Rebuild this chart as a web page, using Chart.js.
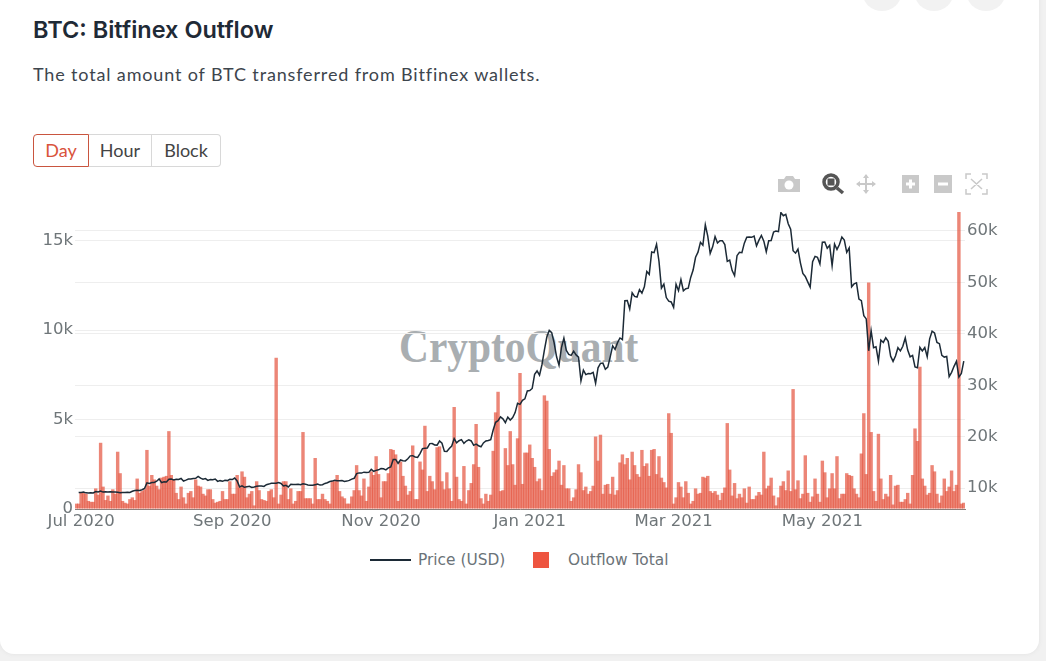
<!DOCTYPE html>
<html lang="en">

<head>
    <meta charset="UTF-8">
    <title>BTC: Bitfinex Outflow</title>
    <script src="https://cdn.jsdelivr.net/npm/chart.js"></script>
    <style>
        html, body { margin: 0; padding: 0; width: 1046px; height: 661px; overflow: hidden; background: #f1f1f1; }
        .card { position: absolute; left: 0; top: -20px; width: 1039px; height: 674px; background: #fff; border-radius: 14px; box-shadow: 0 0 4px #e2e2e2; }
        .dot { position: absolute; top: -29px; width: 40px; height: 40px; border-radius: 50%; background: #f2f2f2; }
        h1 { position: absolute; left: 33px; top: 15px; margin: 0; font: 600 23.5px Inter; color: #1f2a36; }
        .sub { position: absolute; left: 33px; top: 63px; font: 400 18px Lato; color: #3d454d; letter-spacing: 0.85px; }
        .btns { position: absolute; left: 33px; top: 134px; height: 33px; display: flex; font: 400 18px Lato; color: #444; }
        .btns div { box-sizing: border-box; height: 33px; line-height: 31px; text-align: center; border: 1px solid #d8d8d8; border-left: 0; }
        .btns .on { width: 56px; border: 1px solid #c9553f; border-radius: 4px 0 0 4px; color: #d9533c; }
        .btns .last { border-radius: 0 4px 4px 0; }
        .mark { position: absolute; left: 399px; top: 320px; font: bold 46px "Liberation Serif"; color: #a9aeb1; transform: scaleX(0.9); transform-origin: left top; }
        .wrap { position: absolute; left: 0; top: 200px; width: 1046px; height: 340px; }
        .tools { position: absolute; left: 0; top: 0; }
        .legend { position: absolute; top: 551px; font: 15.4px "DejaVu Sans"; color: #6b7378; }
        .lineKey { position: absolute; left: 370px; top: 559px; width: 41px; height: 2px; background: #1c2a36; }
        .boxKey { position: absolute; left: 533px; top: 552px; width: 16px; height: 16px; background: #ee5540; }
    </style>
</head>

<body>

    <div class="card"></div>
    <div class="dot" style="left:862px"></div>
    <div class="dot" style="left:914px"></div>
    <div class="dot" style="left:966px"></div>

    <h1>BTC: Bitfinex Outflow</h1>
    <div class="sub">The total amount of BTC transferred from Bitfinex wallets.</div>

    <div class="btns">
        <div class="on">Day</div>
        <div style="width:63px">Hour</div>
        <div class="last" style="width:69px">Block</div>
    </div>

    <!-- barra de ferramentas -->
    <svg class="tools" width="1046" height="200">
        <g fill="#c9c9c9">
            <path d="M778 179h6l2-3h7l2 3h5v13h-22z" />
            <circle cx="789" cy="185" r="4.5" fill="#fff" />
            <rect x="902" y="175" width="17" height="18" />
            <rect x="934" y="175" width="18" height="18" />
        </g>
        <path d="M906 184h9M910.500 179.500v9M938 184h10" stroke="#fff" stroke-width="3" />
        <circle cx="831" cy="182" r="7" fill="none" stroke="#555" stroke-width="3.500" />
        <rect x="827.500" y="178.500" width="7" height="7" fill="#555" />
        <path d="M837 188l6 5" stroke="#555" stroke-width="3.500" />
        <path d="M866 175v18M857 184h18" stroke="#c9c9c9" stroke-width="2" />
        <path d="M866 174l-3 4h6zM866 194l-3-4h6zM856 184l4-3v6zM876 184l-4-3v6z" fill="#c9c9c9" />
        <path d="M966 179v-5h5M982 174h5v5M987 189v5h-5M971 194h-5v-5M971 179l11 10M982 179l-11 10" stroke="#c9c9c9" stroke-width="1.500" fill="none" />
    </svg>

    <div class="mark">CryptoQuant</div>

    <div class="wrap"><canvas id="grafico"></canvas></div>

    <div class="lineKey"></div>
    <div class="legend" style="left:418px">Price (USD)</div>
    <div class="boxKey"></div>
    <div class="legend" style="left:568px">Outflow Total</div>

    <script>
        // eixos
        const startDate = '2020-06-29';
        const dayCount = 365;
        const xTickDates = ['2020-07-01', '2020-09-01', '2020-11-01', '2021-01-01', '2021-03-01', '2021-05-01'];
        const xTickNames = ['Jul 2020', 'Sep 2020', 'Nov 2020', 'Jan 2021', 'Mar 2021', 'May 2021'];
        const leftTicks = [0, 5000, 10000, 15000];
        const rightTicks = [10000, 20000, 30000, 40000, 50000, 60000];
        const leftMax = 16600;
        const rightMin = 5950;
        const rightMax = 63700;

        // outflow diario
        const outflowTotal = [
            300, 300, 900, 900, 850, 450, 400, 400, 1150, 800,
            3700, 1250, 500, 750, 450, 1100, 850, 3200, 2000, 450,
            350, 300, 550, 650, 500, 1700, 900, 1000, 1100, 3300,
            1300, 1900, 1650, 1300, 1100, 1750, 1800, 1850, 4350, 1900,
            1650, 900, 550, 1250, 650, 300, 900, 1000, 650, 1650,
            1300, 1250, 850, 750, 1100, 1100, 550, 350, 400, 450,
            1000, 550, 550, 1550, 850, 850, 1900, 1200, 2100, 1800,
            650, 850, 1000, 200, 1550, 1050, 550, 500, 450, 1000,
            1100, 650, 8450, 300, 800, 1550, 1550, 550, 1150, 300,
            450, 1000, 1000, 4300, 600, 600, 600, 300, 2850, 550,
            550, 850, 550, 450, 300, 1550, 1550, 1900, 1000, 700,
            600, 300, 300, 700, 1050, 2450, 1050, 750, 1700, 450,
            1250, 2100, 1900, 2950, 1950, 650, 1550, 1550, 2000, 3350,
            3300, 3050, 450, 2650, 1850, 1300, 800, 1000, 3550, 550,
            550, 2650, 2200, 4650, 1000, 1850, 1550, 1100, 3450, 3500,
            1550, 1100, 2050, 1150, 450, 5700, 1800, 550, 450, 2400,
            300, 1050, 1450, 2500, 4750, 2350, 600, 300, 850, 450,
            800, 3250, 5400, 6550, 1000, 1050, 3400, 2450, 4350, 2500,
            1350, 3950, 7600, 1400, 3150, 3150, 3600, 2850, 2350, 1550,
            1700, 1050, 6350, 6050, 3350, 1850, 2050, 2200, 2700, 1350,
            2450, 1150, 1150, 450, 650, 1100, 2500, 2050, 1050, 1250,
            850, 1000, 1300, 4050, 2700, 4150, 850, 1350, 1400, 850,
            1800, 800, 1050, 2600, 3050, 2500, 2850, 1650, 3200, 2450,
            1950, 1800, 3300, 2400, 2550, 1850, 3300, 3350, 1950, 2950,
            1750, 1500, 1200, 5350, 4250, 300, 650, 1500, 1250, 650,
            1550, 900, 300, 450, 1150, 850, 900, 1800, 1750, 1850,
            1000, 900, 1000, 800, 500, 900, 1200, 4800, 2200, 750,
            1450, 600, 850, 650, 1150, 350, 1250, 550, 550, 750,
            950, 800, 3200, 1150, 1300, 1750, 750, 200, 650, 1300,
            1550, 1050, 2150, 1000, 6700, 1100, 1600, 600, 850, 3000,
            900, 400, 700, 1700, 850, 400, 2700, 2050, 650, 1150,
            2000, 1150, 2950, 600, 850, 850, 2000, 1900, 1850, 1150,
            850, 650, 3100, 5350, 1950, 12650, 4300, 1000, 450, 4200,
            1700, 550, 850, 700, 1900, 250, 1300, 1350, 400, 400,
            550, 900, 300, 1900, 4500, 3800, 7950, 1700, 1300, 800,
            900, 2450, 2100, 850, 350, 750, 1700, 1000, 1250, 2150,
            1000, 1350, 16600, 300, 350
        ];

        // preco por mes
        const priceJun20 = [null, 9135, 9180];
        const priceJul20 = [9230, 9090, 9060, 9130, 9070, 9340, 9250, 9430, 9240, 9290, 9240, 9300, 9240, 9255, 9195, 9130, 9155, 9170, 9210, 9160, 9390, 9530, 9610, 9550, 9700, 9930, 11030, 10910, 11100, 11110, 11350];
        const priceAug20 = [11800, 11070, 11230, 11190, 11740, 11760, 11600, 11750, 11680, 11880, 11390, 11560, 11790, 11770, 11860, 11910, 12300, 11950, 11750, 11860, 11520, 11680, 11650, 11770, 11320, 11460, 11330, 11540, 11470, 11710, 11680];
        const priceSep20 = [11970, 11410, 10250, 10470, 10170, 10280, 10370, 10130, 10240, 10370, 10400, 10440, 10330, 10680, 10790, 10950, 10940, 10940, 11080, 10920, 10420, 10540, 10240, 10740, 10690, 10730, 10770, 10690, 10840, 10780];
        const priceOct20 = [10620, 10570, 10550, 10670, 10790, 10600, 10670, 10920, 11060, 11300, 11370, 11540, 11430, 11430, 11500, 11320, 11370, 11510, 11750, 11920, 12820, 12970, 12930, 13110, 13030, 13070, 13650, 13280, 13460, 13560, 13800];
        const priceNov20 = [13760, 13550, 13950, 14130, 15590, 15590, 14830, 15480, 15330, 15300, 15700, 16280, 16320, 16070, 15960, 16730, 17680, 17780, 17820, 18660, 18680, 18410, 18370, 19160, 18730, 17150, 17130, 17720, 18180, 19630];
        const priceDec20 = [18800, 19220, 19440, 18700, 19160, 19380, 19180, 18320, 18550, 18250, 18040, 18800, 19170, 19270, 19440, 21310, 22810, 23130, 23870, 23480, 22740, 23820, 23240, 23730, 24690, 26490, 26280, 27080, 27360, 28890, 28980];
        const priceJan21 = [29380, 32130, 32780, 31970, 33990, 36820, 39370, 40670, 40240, 38240, 35540, 33910, 37320, 39150, 36770, 36000, 35820, 36630, 35900, 35470, 30850, 32950, 32080, 32280, 32250, 32500, 30400, 33400, 34260, 34300, 33110];
        const priceFeb21 = [33540, 35510, 37670, 36980, 38290, 39190, 38870, 46450, 46480, 44830, 47970, 47280, 47150, 48590, 47910, 49130, 52120, 51560, 55920, 55780, 57410, 54090, 48890, 49670, 47050, 46340, 46190, 45140];
        const priceMar21 = [49630, 48380, 50540, 48370, 48760, 48880, 50970, 52390, 54880, 55880, 57800, 57230, 61180, 59000, 55640, 56900, 58910, 57660, 58080, 58100, 57350, 54080, 54340, 52300, 51300, 55190, 55840, 55780, 57630, 58780, 58800];
        const priceApr21 = [58760, 59000, 57100, 58210, 59120, 58020, 55950, 58080, 58130, 59770, 60000, 59860, 63580, 62960, 63220, 61400, 60330, 56150, 55680, 56470, 53800, 51730, 51150, 50100, 49070, 54030, 55050, 54880, 53580, 57800];
        const priceMay21 = [57830, 56630, 57200, 53250, 57450, 56400, 57350, 58800, 58230, 55850, 56700, 49150, 49700, 49900, 46760, 46430, 43540, 42900, 36700, 40620, 37300, 37500, 34700, 38790, 38330, 39240, 38530, 35660, 34650, 35680, 37310];
        const priceJun21 = [36690, 37570, 39190, 36850, 35520, 35800, 33580, 33400, 37390, 36690, 37340, 35550, 39020, 40520, 40170, 38340, 38090, 35820, 35480, 35600, 31680, 32510, 33680, 34660, 31590, 32280, 34700];

        const priceUsd = [].concat(priceJun20, priceJul20, priceAug20, priceSep20, priceOct20, priceNov20,
            priceDec20, priceJan21, priceFeb21, priceMar21, priceApr21, priceMay21, priceJun21);

        var dias = [];
        for (var i = 0; i < dayCount; i++) {
            var d = new Date(startDate + 'T00:00:00Z');
            d.setUTCDate(d.getUTCDate() + i);
            dias.push(d.toISOString().slice(0, 10));
        }

        function rotulo(v) {
            return v == 0 ? '0' : (v / 1000) + 'k';
        }

        const corTexto = '#6f7679';
        const fonteEixo = { family: 'DejaVu Sans', size: 16.5 };

        const ctx = document.getElementById('grafico').getContext('2d');
        const grafico = new Chart(ctx, {
            type: 'bar',
            data: {
                labels: dias,
                datasets: [
                    {
                        type: 'line',
                        label: 'Price (USD)',
                        data: priceUsd,
                        yAxisID: 'yPrice',
                        borderColor: '#1c2a36',
                        borderWidth: 1.5,
                        pointRadius: 0,
                        tension: 0,
                        order: 0
                    },
                    {
                        label: 'Outflow Total',
                        data: outflowTotal,
                        yAxisID: 'yOutflow',
                        backgroundColor: 'rgba(228, 88, 66, 0.72)',
                        barPercentage: 1.4,
                        categoryPercentage: 1,
                        order: 1
                    }
                ]
            },
            options: {
                responsive: true,
                maintainAspectRatio: false,
                animation: false,
                layout: { padding: { top: 10, left: 0, right: 0, bottom: 0 } },
                plugins: { legend: { display: false }, tooltip: { enabled: false } },
                scales: {
                    x: {
                        grid: { display: false },
                        border: { display: true, color: '#8d7f7b', width: 1 },
                        afterBuildTicks: function (scale) {
                            scale.ticks = xTickDates.map(function (t) { return { value: dias.indexOf(t) }; });
                        },
                        afterFit: function (scale) { scale.height = 31; },
                        ticks: {
                            autoSkip: false,
                            maxRotation: 0,
                            padding: -5,
                            color: corTexto,
                            font: fonteEixo,
                            callback: function (v) { return xTickNames[xTickDates.indexOf(dias[v])]; }
                        }
                    },
                    yOutflow: {
                        position: 'left',
                        min: 0,
                        max: leftMax,
                        border: { display: false },
                        grid: { color: '#eeeeee', drawTicks: false },
                        afterBuildTicks: function (scale) {
                            scale.ticks = leftTicks.map(function (v) { return { value: v }; });
                        },
                        afterFit: function (scale) { scale.width = 75; },
                        ticks: { padding: 2, color: corTexto, font: fonteEixo, callback: rotulo }
                    },
                    yPrice: {
                        position: 'right',
                        min: rightMin,
                        max: rightMax,
                        border: { display: false },
                        grid: { color: '#eeeeee', drawTicks: false },
                        afterBuildTicks: function (scale) {
                            scale.ticks = rightTicks.map(function (v) { return { value: v }; });
                        },
                        afterFit: function (scale) { scale.width = 81; },
                        ticks: { padding: 2, color: corTexto, font: fonteEixo, callback: rotulo }
                    }
                }
            }
        });
    </script>

</body>

</html>
